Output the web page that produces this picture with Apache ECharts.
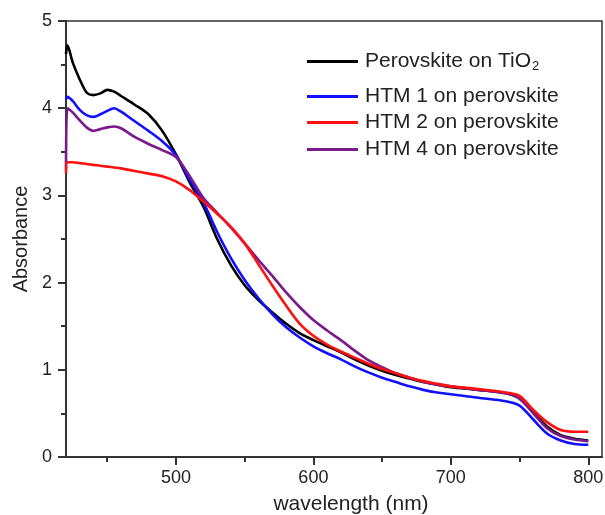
<!DOCTYPE html>
<html>
<head>
<meta charset="utf-8">
<script src="https://cdn.jsdelivr.net/npm/echarts@6/dist/echarts.min.js"></script>
<style>
html,body{margin:0;padding:0;background:#fff;}
#chart{width:605px;height:515px;}
</style>
</head>
<body>
<div id="chart"></div>
<script>
// Wavelengths (nm)
const wavelengths = [420, 421, 425, 430, 435, 440, 445, 450, 455, 460, 470, 480, 490, 500, 510, 520, 530, 540, 550, 560, 570, 580, 590, 600, 610, 620, 630, 640, 650, 660, 670, 680, 690, 700, 720, 740, 750, 760, 770, 780, 790, 800];
// Absorbance values
const perovskiteTiO2 = [4.62, 4.72, 4.52, 4.33, 4.18, 4.15, 4.17, 4.21, 4.19, 4.14, 4.04, 3.93, 3.74, 3.47, 3.15, 2.87, 2.50, 2.20, 1.97, 1.80, 1.66, 1.53, 1.42, 1.34, 1.27, 1.20, 1.12, 1.05, 0.99, 0.94, 0.90, 0.86, 0.83, 0.80, 0.77, 0.73, 0.67, 0.51, 0.35, 0.25, 0.21, 0.19];
const htm1 = [4.10, 4.13, 4.08, 3.98, 3.92, 3.90, 3.93, 3.97, 4.00, 3.96, 3.85, 3.74, 3.62, 3.46, 3.18, 2.92, 2.58, 2.28, 2.03, 1.82, 1.64, 1.49, 1.37, 1.27, 1.19, 1.12, 1.04, 0.97, 0.91, 0.86, 0.81, 0.77, 0.74, 0.72, 0.68, 0.64, 0.59, 0.43, 0.27, 0.19, 0.15, 0.14];
const htm2 = [3.25, 3.38, 3.38, 3.37, 3.36, 3.35, 3.34, 3.33, 3.32, 3.31, 3.28, 3.25, 3.22, 3.16, 3.06, 2.93, 2.79, 2.64, 2.45, 2.21, 1.97, 1.74, 1.53, 1.39, 1.29, 1.21, 1.14, 1.07, 1.01, 0.96, 0.91, 0.87, 0.84, 0.81, 0.78, 0.74, 0.70, 0.54, 0.40, 0.31, 0.29, 0.29];
const htm4 = [3.30, 4.00, 3.95, 3.86, 3.78, 3.74, 3.76, 3.78, 3.79, 3.77, 3.67, 3.59, 3.52, 3.44, 3.22, 2.97, 2.80, 2.63, 2.45, 2.26, 2.08, 1.89, 1.72, 1.57, 1.45, 1.34, 1.22, 1.11, 1.03, 0.96, 0.91, 0.86, 0.83, 0.81, 0.77, 0.73, 0.67, 0.50, 0.33, 0.24, 0.20, 0.18];

const seriesNames = ['Perovskite on TiO2', 'HTM 1 on perovskite', 'HTM 2 on perovskite', 'HTM 4 on perovskite'];
const seriesValues = [perovskiteTiO2, htm1, htm2, htm4];
const seriesColors = ['#000000', '#1010ff', '#ff1010', '#7a1a8a'];

// Tick labels
const xMajorTicks = [500, 600, 700, 800];
const xMinorTicks = [450, 550, 650, 750];
const yTicks = [0, 1, 2, 3, 4, 5];

const FONT = 'Liberation Sans, Arial, sans-serif';
const AX = '#333333';

const legendTops = [51, 86, 112, 139];

const chart = echarts.init(document.getElementById('chart'), null, {renderer: 'canvas'});

const option = {
  animation: false,
  backgroundColor: '#ffffff',
  textStyle: {fontFamily: FONT},
  grid: {left: 66, right: 3, top: 21, bottom: 58, show: true, borderColor: AX, borderWidth: 1.5,
    containLabel: false, outerBoundsMode: 'none'},
  legend: seriesNames.map((n, i) => ({
    data: [n],
    left: 307,
    top: legendTops[i],
    padding: 0,
    icon: 'rect',
    itemWidth: 51,
    itemHeight: 3,
    selectedMode: false,
    formatter: i === 0 ? 'Perovskite on TiO{sub|2}' : '{name}',
    textStyle: {
      fontSize: 21, color: '#222', fontFamily: FONT, padding: [0, 0, 0, 2],
      rich: {sub: {fontSize: 13, color: '#222', fontFamily: FONT, verticalAlign: 'bottom', padding: [10, 0, 0, 1]}}
    }
  })),
  xAxis: [
    {
      type: 'value', min: 420, max: 810, position: 'bottom',
      name: 'wavelength (nm)', nameLocation: 'middle', nameGap: 37,
      nameTextStyle: {fontSize: 21, color: '#222', fontFamily: FONT, padding: [0, 0, 0, 34]},
      axisLine: {show: true, onZero: false, lineStyle: {color: AX, width: 2}},
      axisTick: {show: true, customValues: xMajorTicks, length: 8, lineStyle: {color: AX, width: 2}},
      axisLabel: {customValues: xMajorTicks, fontSize: 18, color: '#222', margin: 12, fontFamily: FONT},
      splitLine: {show: false}
    },
    {
      type: 'value', min: 420, max: 810, position: 'bottom',
      axisLine: {show: false, onZero: false},
      axisTick: {show: true, customValues: xMinorTicks, length: 5, lineStyle: {color: AX, width: 2}},
      axisLabel: {show: false, customValues: xMinorTicks},
      splitLine: {show: false}
    }
  ],
  yAxis: {
    type: 'value', min: 0, max: 5, interval: 1,
    name: 'Absorbance', nameLocation: 'middle', nameGap: 34, nameRotate: 90,
    nameTextStyle: {fontSize: 20, color: '#222', fontFamily: FONT},
    axisLine: {show: true, onZero: false, lineStyle: {color: AX, width: 2}},
    axisTick: {show: true, length: 8, lineStyle: {color: AX, width: 2}},
    minorTick: {show: true, splitNumber: 2, length: 5, lineStyle: {color: AX, width: 2}},
    axisLabel: {fontSize: 18, color: '#222', margin: 14, fontFamily: FONT,
      formatter: v => (yTicks.indexOf(v) >= 0 ? String(v) : '')},
    splitLine: {show: false}
  },
  series: seriesNames.map((n, i) => ({
    name: n,
    type: 'line',
    xAxisIndex: 0,
    showSymbol: false,
    smooth: 0.3,
    color: seriesColors[i],
    lineStyle: {width: 2.6, color: seriesColors[i]},
    z: [2, 3, 5, 4][i],
    data: wavelengths.map((w, k) => [w, seriesValues[i][k]])
  }))
};

chart.setOption(option);
</script>
</body>
</html>
